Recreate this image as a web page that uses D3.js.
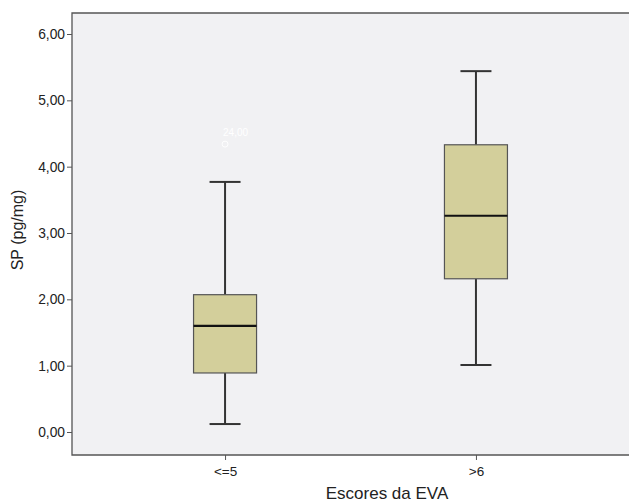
<!DOCTYPE html>
<html>
<head>
<meta charset="utf-8">
<script src="https://cdn.jsdelivr.net/npm/d3@7"></script>
<style>
  body { margin: 0; background: #fff; }
  text { font-family: "Liberation Sans", Arial, sans-serif; }
</style>
</head>
<body>
<div id="chart"></div>
<script>
// values
const categories = ["<=5", ">6"];
const whiskerLow = [0.12, 1.01];
const q1 = [0.89, 2.31];
const median = [1.60, 3.26];
const q3 = [2.07, 4.33];
const whiskerHigh = [3.77, 5.44];
const outliers = [{ cat: "<=5", value: 4.34, label: "24,00" }];
const yTicks = [0, 1, 2, 3, 4, 5, 6];

const W = 629, H = 504;
const svg = d3.select("#chart").append("svg")
  .attr("width", W).attr("height", H);

const plotLeft = 72, plotTop = 13, plotRight = 629, plotBottom = 455;

const y = d3.scaleLinear().domain([0, 6]).range([432, 34]);
const x = d3.scalePoint().domain(categories).range([plotLeft, plotRight]).padding(0.61);

// plot background
svg.append("rect")
  .attr("x", plotLeft).attr("y", plotTop)
  .attr("width", plotRight - plotLeft).attr("height", plotBottom - plotTop)
  .style("fill", "#f1f1f3");

// frame: top, left, bottom
svg.append("path")
  .attr("d", `M${plotRight},${plotTop}H${plotLeft}V${plotBottom}H${plotRight}`)
  .style("fill", "none").style("stroke", "#555").style("stroke-width", 1.3);

// y axis
const yAxis = svg.append("g")
  .attr("transform", `translate(${plotLeft},0)`)
  .call(d3.axisLeft(y).tickValues(yTicks).tickSize(5).tickPadding(2)
    .tickFormat(d => d3.format(".2f")(d).replace(".", ",")));
yAxis.select(".domain").remove();
yAxis.selectAll("line").style("stroke", "#555");
yAxis.selectAll("text").style("font-size", "13.8px").style("fill", "#222");

// x axis
const xAxis = svg.append("g")
  .attr("transform", `translate(0,${plotBottom})`)
  .call(d3.axisBottom(x).tickSize(5).tickPadding(6));
xAxis.select(".domain").remove();
xAxis.selectAll("line").style("stroke", "#555");
xAxis.selectAll("text").style("font-size", "13.5px").style("fill", "#222");

// axis titles
svg.append("text")
  .attr("x", 387).attr("y", 499)
  .attr("text-anchor", "middle")
  .style("font-size", "17px").style("fill", "#222")
  .text("Escores da EVA");

svg.append("text")
  .attr("transform", `translate(23,230) rotate(-90)`)
  .attr("text-anchor", "middle")
  .style("font-size", "16px").style("fill", "#222")
  .text("SP (pg/mg)");

// boxes
const boxW = 63, capW = 31;
const g = svg.append("g");
categories.forEach((c, i) => {
  const cx = x(c);
  // whisker stems
  g.append("line")
    .attr("x1", cx).attr("x2", cx)
    .attr("y1", y(whiskerHigh[i])).attr("y2", y(q3[i]))
    .style("stroke", "#333").style("stroke-width", 2);
  g.append("line")
    .attr("x1", cx).attr("x2", cx)
    .attr("y1", y(q1[i])).attr("y2", y(whiskerLow[i]))
    .style("stroke", "#333").style("stroke-width", 2);
  // caps
  [whiskerHigh[i], whiskerLow[i]].forEach(v => {
    g.append("line")
      .attr("x1", cx - capW / 2).attr("x2", cx + capW / 2)
      .attr("y1", y(v)).attr("y2", y(v))
      .style("stroke", "#333").style("stroke-width", 2);
  });
  // box
  g.append("rect")
    .attr("x", cx - boxW / 2).attr("y", y(q3[i]))
    .attr("width", boxW).attr("height", y(q1[i]) - y(q3[i]))
    .style("fill", "#d3cf9b").style("stroke", "#555").style("stroke-width", 1.2);
  // median
  g.append("line")
    .attr("x1", cx - boxW / 2).attr("x2", cx + boxW / 2)
    .attr("y1", y(median[i])).attr("y2", y(median[i]))
    .style("stroke", "#111").style("stroke-width", 2.2);
});

// outliers
outliers.forEach(o => {
  g.append("circle")
    .attr("cx", x(o.cat)).attr("cy", y(o.value)).attr("r", 3)
    .style("fill", "none").style("stroke", "#fff").style("stroke-width", 1);
  g.append("text")
    .attr("x", x(o.cat) - 2).attr("y", y(o.value) - 8)
    .style("font-size", "10px").style("fill", "#fff")
    .text(o.label);
});
</script>
</body>
</html>
